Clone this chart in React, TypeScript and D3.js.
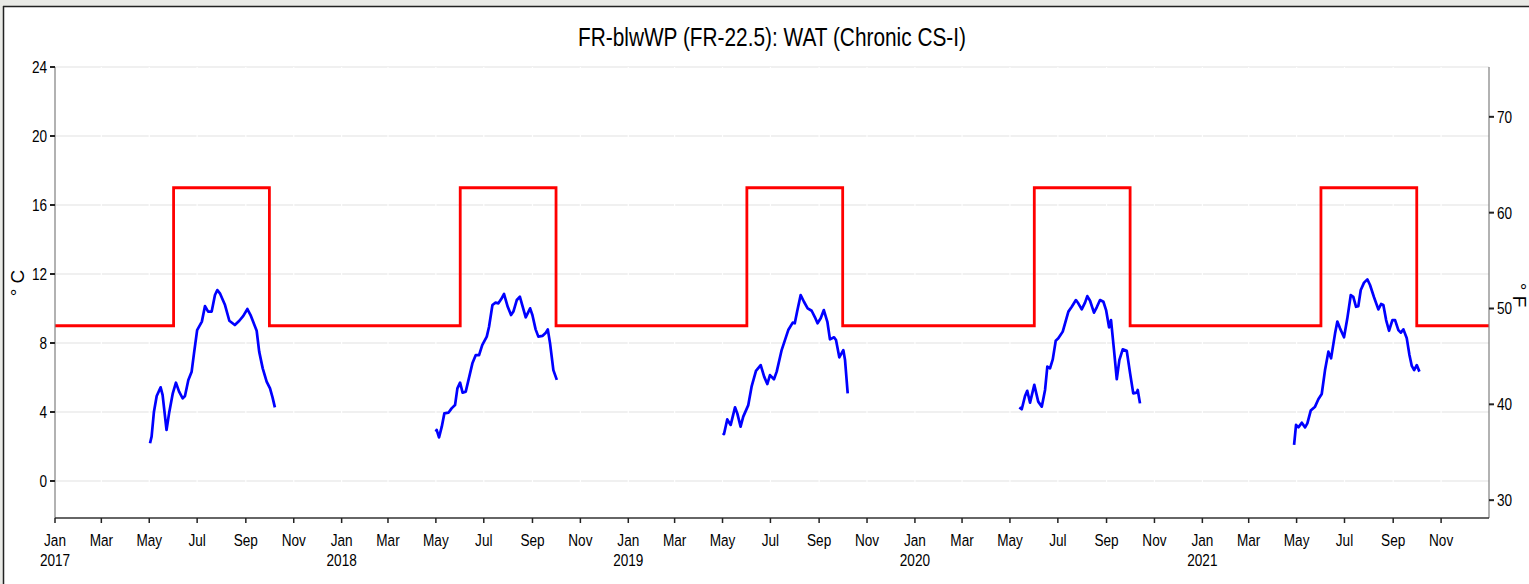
import React from 'react'
import * as d3 from 'd3'

// threshold (WAT chronic criterion) change points
const critDates = [
  '2017-01-01', '2017-06-01', '2017-10-01',
  '2018-06-01', '2018-10-01',
  '2019-06-01', '2019-10-01',
  '2020-06-01', '2020-10-01',
  '2021-06-01', '2021-10-01', '2022-01-01',
]
const critValues = [9, 17, 9, 17, 9, 17, 9, 17, 9, 17, 9, 9]

// observed weekly average temperature: [day of year, deg C]
const wat2017: [number, number][] = [
  [121, 2.19], [123, 2.57], [126, 4.02], [129.5, 4.93], [134.5, 5.43], [137, 4.99], [142, 2.96],
  [145.6, 4.02], [150, 5.08], [154, 5.7], [158, 5.18], [162.6, 4.79], [165.5, 4.93], [169.8, 5.86],
  [174, 6.34], [177, 7.4], [181, 8.75], [187, 9.24], [191, 10.14], [195, 9.82], [199.5, 9.82],
  [203.7, 10.78], [206.7, 11.07], [210, 10.88], [216.5, 10.2], [222, 9.29], [229, 9.04],
  [234.7, 9.29], [239.8, 9.57], [245, 9.97], [249, 9.62], [256.8, 8.71], [260, 7.5], [264.5, 6.53],
  [269.5, 5.76], [273.8, 5.37], [277, 4.85], [280, 4.27],
]
const wat2018: [number, number][] = [
  [119.8, 2.86], [121, 2.96], [124, 2.53], [127.5, 3.15], [130.8, 3.92], [136, 3.96], [140, 4.21],
  [144.4, 4.4], [147.4, 5.37], [150.8, 5.7], [154, 5.12], [158, 5.18], [162, 5.95], [166.5, 6.82],
  [170.8, 7.3], [175, 7.3], [179, 7.88], [184.8, 8.37], [187.7, 8.94], [192, 10.2], [196, 10.34],
  [199.6, 10.3], [203, 10.53], [206.8, 10.84], [211.5, 10.1], [215.7, 9.62], [218.7, 9.82],
  [223, 10.49], [227, 10.68], [230.6, 10.1], [234.4, 9.49], [240, 10.01], [242.9, 9.62],
  [247, 8.79], [250.5, 8.37], [255.6, 8.41], [260, 8.6], [262.5, 8.79], [265.4, 7.98],
  [269.6, 6.43], [274, 5.86],
]
const wat2019: [number, number][] = [
  [120.2, 2.77], [121.9, 2.72], [126, 3.57], [130.4, 3.25], [135.9, 4.27], [138.8, 3.92],
  [143, 3.15], [146.4, 3.73], [152.8, 4.4], [157, 5.47], [162.6, 6.39], [168.6, 6.72], [173, 6.05],
  [177, 5.62], [180.4, 6.14], [185.5, 5.9], [189, 6.34], [195.3, 7.59], [203.7, 8.75], [209.4, 9.18],
  [212, 9.14], [215, 9.82], [219.5, 10.78], [223.7, 10.39], [228.4, 10.01], [233.5, 9.87],
  [237.7, 9.49], [241, 9.14], [245, 9.43], [249, 9.91], [253.5, 9.23], [256.8, 8.21], [262, 8.33],
  [264.5, 8.17], [268.7, 7.17], [273.8, 7.59], [276, 7.01], [279.4, 5.08],
]
const wat2020: [number, number][] = [
  [133, 4.27], [136, 4.16], [140.2, 4.93], [143, 5.23], [146.6, 4.54], [152, 5.57], [157, 4.6],
  [161.5, 4.31], [165.7, 5.28], [168.6, 6.63], [172, 6.53], [175.5, 7.05], [179.3, 8.13],
  [182.6, 8.27], [188.2, 8.66], [195.4, 9.82], [199.7, 10.1], [205, 10.49], [208, 10.3],
  [212.4, 9.95], [216.6, 10.34], [219.5, 10.72], [223, 10.45], [228, 9.76], [231.5, 10.07],
  [235.7, 10.49], [240, 10.39], [243.4, 9.91], [247.2, 8.91], [249.7, 9.33], [253.5, 7.59],
  [257, 5.9], [260.3, 7.01], [264.6, 7.63], [269.7, 7.55], [274, 6.24], [278, 5.08], [282.4, 5.12],
  [283.7, 5.28], [286.6, 4.5],
]
const wat2021: [number, number][] = [
  [116.8, 2.09], [119.3, 3.25], [122.3, 3.11], [126.6, 3.38], [130.8, 3.11], [133.7, 3.34],
  [138, 4.08], [143.5, 4.31], [147.7, 4.74], [152, 5.04], [156.2, 6.43], [160.5, 7.5], [163.9, 7.11],
  [169, 8.56], [171.9, 9.24], [175.3, 8.85], [180.4, 8.33], [184.6, 9.43], [189, 10.78],
  [192.2, 10.68], [195.7, 10.1], [198.6, 10.14], [201.7, 11.07], [205.9, 11.5], [210.1, 11.69],
  [213.5, 11.36], [218.6, 10.65], [224.1, 9.95], [227.6, 10.26], [230.5, 10.2], [234, 9.33],
  [237.7, 8.71], [242, 9.33], [245.4, 9.33], [249.6, 8.75], [252.7, 8.6], [256, 8.79], [260.3, 8.27],
  [263.7, 7.3], [266.7, 6.67], [269.7, 6.43], [273, 6.72], [276.4, 6.34],
]
const watYears = [2017, 2018, 2019, 2020, 2021]
const watSeries = [wat2017, wat2018, wat2019, wat2020, wat2021]

const cTicks = [0, 4, 8, 12, 16, 20, 24]
const fTicks = [30, 40, 50, 60, 70]

const W = 1529
const H = 584
const FONT = '"Liberation Sans", Arial, sans-serif'

function App() {
  const x = d3.scaleTime()
    .domain([new Date(2017, 0, 1), new Date(2022, 0, 1)])
    .range([55, 1489])
  const y = d3.scaleLinear().domain([-2.145, 24]).range([518, 67])
  const f2c = (f: number) => (f - 32) * 5 / 9

  const monthTicks = d3.timeMonth.every(2)!.range(new Date(2017, 0, 1), new Date(2021, 11, 31))

  const line = d3.line<[Date, number]>()
    .x(d => x(d[0]))
    .y(d => y(d[1]))

  const critPts: [Date, number][] = critDates.map((s, i) => [d3.timeParse('%Y-%m-%d')(s)!, critValues[i]])
  const critPath = d3.line<[Date, number]>()
    .x(d => x(d[0]))
    .y(d => y(d[1]))
    .curve(d3.curveStepAfter)(critPts)

  const sx = 0.8
  const fs = 17

  return (
    <svg width={W} height={H} style={{ position: 'absolute', left: 0, top: 0, background: '#fff' }}
      fontFamily={FONT}>
      <rect x={0} y={0} width={W} height={6} fill="#e9eae6" />
      <rect x={0} y={0} width={3} height={H} fill="#e9eae6" />
      <line x1={3} x2={W} y1={6.5} y2={6.5} stroke="#222" strokeWidth={1.5} />
      <line x1={3.5} x2={3.5} y1={6} y2={H} stroke="#222" strokeWidth={1.5} />

      {/* gridlines */}
      {cTicks.map(t => (
        <line key={'g' + t} x1={55} x2={1489} y1={y(t)} y2={y(t)} stroke="#ebebeb" strokeWidth={1.5} />
      ))}
      {monthTicks.map(d => (
        <line key={'v' + d.getTime()} x1={x(d)} x2={x(d)} y1={67} y2={518} stroke="#fff" strokeWidth={1.2} />
      ))}

      {/* criterion */}
      <path d={critPath!} fill="none" stroke="#ff0000" strokeWidth={2.8} />

      {/* observed */}
      {watSeries.map((s, i) => {
        const base = new Date(watYears[i], 0, 1)
        const pts: [Date, number][] = s.map(p => [new Date(base.getTime() + p[0] * 864e5), p[1]])
        return <path key={'w' + i} d={line(pts)!} fill="none" stroke="#0000ff" strokeWidth={2.7}
          strokeLinejoin="round" />
      })}

      {/* axes */}
      <line x1={55} x2={55} y1={67} y2={518} stroke="#7f7f7f" strokeWidth={1.2} />
      <line x1={1489} x2={1489} y1={67} y2={518} stroke="#7f7f7f" strokeWidth={1.2} />
      <line x1={55} x2={1489} y1={518} y2={518} stroke="#333" strokeWidth={1.5} />

      {cTicks.map(t => (
        <g key={'c' + t}>
          <line x1={50} x2={55} y1={y(t)} y2={y(t)} stroke="#222" strokeWidth={2} />
          <g transform={`translate(47,${y(t) + 6}) scale(${sx},1)`}>
            <text textAnchor="end" fontSize={fs} fill="#000">{t}</text>
          </g>
        </g>
      ))}
      {fTicks.map(t => (
        <g key={'f' + t}>
          <line x1={1489} x2={1494} y1={y(f2c(t))} y2={y(f2c(t))} stroke="#222" strokeWidth={2} />
          <g transform={`translate(1497,${y(f2c(t)) + 6}) scale(${sx},1)`}>
            <text textAnchor="start" fontSize={fs} fill="#000">{t}</text>
          </g>
        </g>
      ))}
      {monthTicks.map(d => (
        <g key={'m' + d.getTime()}>
          <line x1={x(d)} x2={x(d)} y1={518} y2={523} stroke="#222" strokeWidth={1.5} />
          <g transform={`translate(${x(d)},${546}) scale(${sx},1)`}>
            <text textAnchor="middle" fontSize={fs} fill="#000">{d3.timeFormat('%b')(d)}</text>
          </g>
          {d.getMonth() === 0 && (
            <g transform={`translate(${x(d)},${566}) scale(${sx},1)`}>
              <text textAnchor="middle" fontSize={fs} fill="#000">{d.getFullYear()}</text>
            </g>
          )}
        </g>
      ))}

      {/* axis titles */}
      <g transform="translate(24,283) rotate(-90)">
        <text textAnchor="middle" fontSize={19} fill="#000">° C</text>
      </g>
      <g transform="translate(1513,295) rotate(90)">
        <text textAnchor="middle" fontSize={19} fill="#000">° F</text>
      </g>

      <text x={772} y={46} textAnchor="middle" fontSize={25} fill="#000"
        textLength={388} lengthAdjust="spacingAndGlyphs">FR-blwWP (FR-22.5): WAT (Chronic CS-I)</text>
    </svg>
  )
}

export default App
